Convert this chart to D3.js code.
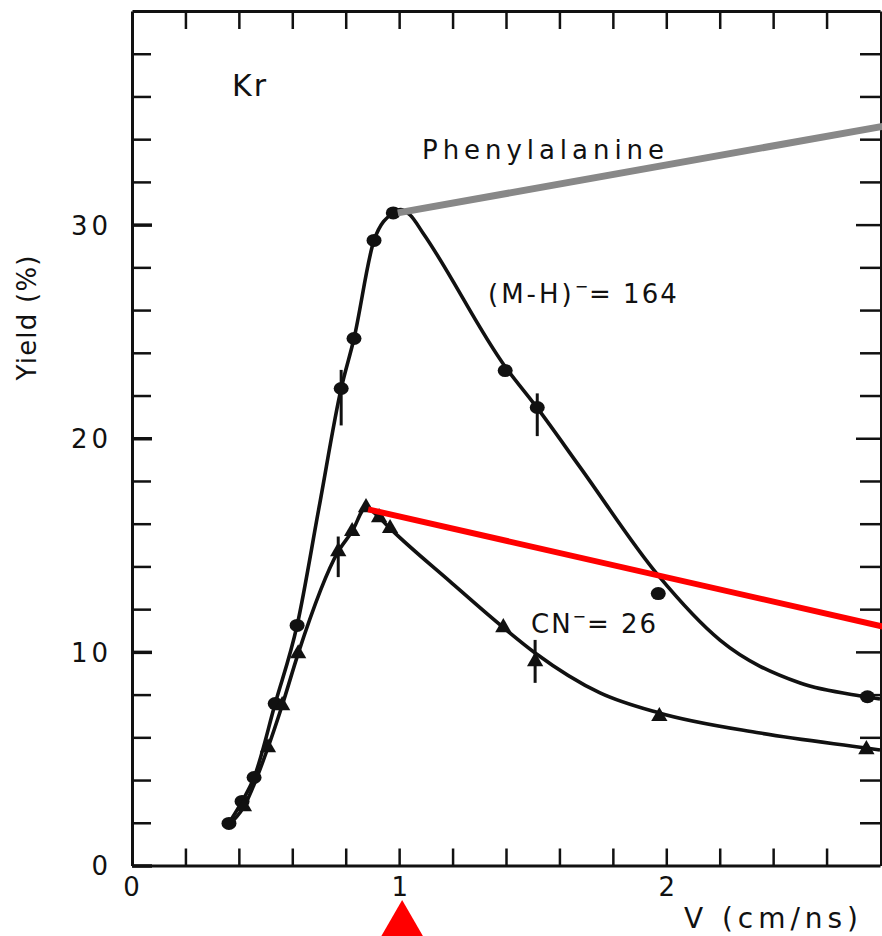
<!DOCTYPE html>
<html>
<meta charset="utf-8">
<head>
  <script src="https://d3js.org/d3.v7.min.js"></script>
  <style>
    body { margin: 0; background: #fff; }
    text { font-family: "DejaVu Sans", sans-serif; fill: #111; }
    .axis path, .axis line { stroke: #111; }
  </style>
</head>
<body>
<div id="chart"></div>
<script>

  // measured points, (M-H)- = 164  (circles)
  var mhX = [0.363, 0.412, 0.457, 0.536, 0.618, 0.783, 0.831, 0.906, 0.978, 1.397, 1.517, 1.970, 2.753];
  var mhY = [1.97, 3.00, 4.12, 7.58, 11.24, 22.33, 24.67, 29.26, 30.55, 23.17, 21.44, 12.73, 7.90];

  // measured points, CN- = 26  (triangles)
  var cnX = [0.419, 0.509, 0.562, 0.622, 0.772, 0.824, 0.876, 0.925, 0.966, 1.390, 1.509, 1.974, 2.749];
  var cnY = [2.76, 5.52, 7.49, 9.92, 14.70, 15.64, 16.76, 16.29, 15.78, 11.14, 9.55, 6.98, 5.43];

  // hand drawn curves through the points
  var mhCurveX = [0.352, 0.412, 0.457, 0.536, 0.618, 0.700, 0.783, 0.831, 0.906, 0.978, 1.005, 1.041, 1.089, 1.397, 1.517, 1.677, 1.969, 2.201, 2.501, 2.752, 2.800];
  var mhCurveY = [1.78, 3.00, 4.12, 7.58, 11.24, 16.75, 22.33, 24.67, 29.26, 30.55, 30.70, 30.45, 29.61, 23.35, 21.42, 18.65, 13.59, 10.55, 8.54, 7.89, 7.79];
  var cnCurveX = [0.352, 0.419, 0.509, 0.562, 0.622, 0.772, 0.824, 0.876, 0.925, 0.966, 1.190, 1.390, 1.509, 1.752, 1.973, 2.351, 2.748, 2.800];
  var cnCurveY = [1.78, 2.76, 5.52, 7.49, 9.92, 14.70, 15.64, 16.76, 16.29, 15.78, 13.3, 11.14, 9.95, 8.08, 7.14, 6.20, 5.50, 5.41];

  // error bars
  var mhErrX = [0.783, 1.517];
  var mhErrLo = [20.6, 20.1];
  var mhErrHi = [23.2, 22.1];
  var cnErrX = [0.772, 1.509];
  var cnErrLo = [13.5, 8.55];
  var cnErrHi = [15.4, 10.56];

  // added highlight lines
  var grayX = [0.995, 2.81];
  var grayY = [30.55, 34.6];
  var redX = [0.884, 2.81];
  var redY = [16.67, 11.19];
  var markerX = 1.0;

  var xTicks = d3.range(0, 28, 2).map(function(d) { return d / 10; });
  var yTicks = d3.range(0, 40, 2);
  var xLabels = [0, 1, 2];
  var yLabels = [0, 10, 20, 30];

  var W = 882, H = 936;
  var svg = d3.select("#chart").append("svg")
      .attr("width", W)
      .attr("height", H);

  var x = d3.scaleLinear().domain([0, 2.8]).range([132, 880]);
  var y = d3.scaleLinear().domain([0, 40]).range([865.5, 11]);

  function fmt(list) {
    return function(d) { return list.indexOf(Math.round(d * 10) / 10) >= 0 ? d3.format("d")(d) : ""; };
  }

  // bottom axis
  var gx = svg.append("g").attr("class", "axis")
      .attr("transform", "translate(0," + y(0) + ")")
      .call(d3.axisBottom(x).tickValues(xTicks).tickSize(-17).tickSizeOuter(0).tickPadding(12).tickFormat(fmt(xLabels)));
  // top axis
  var gt = svg.append("g").attr("class", "axis")
      .attr("transform", "translate(0," + y(40) + ")")
      .call(d3.axisTop(x).tickValues(xTicks.slice(1)).tickSize(-18).tickSizeOuter(0).tickFormat(""));
  // left axis
  var gy = svg.append("g").attr("class", "axis")
      .attr("transform", "translate(" + x(0) + ",0)")
      .call(d3.axisLeft(y).tickValues(yTicks).tickSize(-19).tickSizeOuter(0).tickPadding(20).tickFormat(fmt(yLabels)));
  // right axis
  var gr = svg.append("g").attr("class", "axis")
      .attr("transform", "translate(" + (x(2.8) + 1) + ",0)")
      .call(d3.axisRight(y).tickValues(yTicks.slice(1)).tickSize(-21).tickSizeOuter(0).tickFormat(""));

  svg.selectAll(".axis path").attr("stroke-width", 3);
  svg.selectAll(".axis line").attr("stroke-width", 2.5);
  gy.selectAll(".tick line").filter(function(d) { return d % 10 == 0; }).attr("stroke-width", 3.5).attr("x2", 20);
  gr.selectAll(".tick line").filter(function(d) { return d % 10 == 0; }).attr("x2", -25);
  svg.selectAll(".axis text").style("font-size", "26px").style("font-family", "DejaVu Sans").attr("fill", "#111");
  gy.selectAll("text").attr("dy", "0.36em").attr("letter-spacing", 4);
  gx.selectAll("text").attr("dy", "0.71em");
  gx.select(".tick text").attr("x", -1);

  // curves
  var line = d3.line()
      .x(function(d) { return x(d[0]); })
      .y(function(d) { return y(d[1]); })
      .curve(d3.curveMonotoneX);

  svg.append("path")
      .datum(d3.zip(mhCurveX, mhCurveY))
      .attr("d", line)
      .attr("fill", "none")
      .attr("stroke", "#111")
      .attr("stroke-width", 3.6);

  svg.append("path")
      .datum(d3.zip(cnCurveX, cnCurveY))
      .attr("d", line)
      .attr("fill", "none")
      .attr("stroke", "#111")
      .attr("stroke-width", 3.6);

  // error bars
  svg.append("g").selectAll("line")
      .data(d3.zip(mhErrX.concat(cnErrX), mhErrLo.concat(cnErrLo), mhErrHi.concat(cnErrHi)))
      .enter()
      .append("line")
      .attr("x1", function(d) { return x(d[0]); })
      .attr("x2", function(d) { return x(d[0]); })
      .attr("y1", function(d) { return y(d[1]); })
      .attr("y2", function(d) { return y(d[2]); })
      .attr("stroke", "#111")
      .attr("stroke-width", 3);

  // circles
  svg.append("g").selectAll("ellipse")
      .data(d3.zip(mhX, mhY))
      .enter()
      .append("ellipse")
      .attr("cx", function(d) { return x(d[0]); })
      .attr("cy", function(d) { return y(d[1]); })
      .attr("rx", 7.5)
      .attr("ry", 6.5)
      .attr("fill", "#111");

  // triangles
  var tri = d3.symbol().type(d3.symbolTriangle).size(115);
  svg.append("g").selectAll("path")
      .data(d3.zip(cnX, cnY))
      .enter()
      .append("path")
      .attr("d", tri)
      .attr("transform", function(d) { return "translate(" + x(d[0]) + "," + y(d[1]) + ")"; })
      .attr("fill", "#111");

  // gray + red overlay lines
  var straight = d3.line()
      .x(function(d) { return x(d[0]); })
      .y(function(d) { return y(d[1]); });

  svg.append("path")
      .datum(d3.zip(grayX, grayY))
      .attr("d", straight)
      .attr("stroke", "#888")
      .attr("stroke-width", 7);

  svg.append("path")
      .datum(d3.zip(redX, redY))
      .attr("d", straight)
      .attr("stroke", "#ff0000")
      .attr("stroke-width", 6);

  // red marker under the axis
  var mx = x(markerX) + 3;
  svg.append("path")
      .attr("d", "M" + mx + ",900 L" + (mx + 30) + ",952 L" + (mx - 30) + ",952 Z")
      .attr("fill", "#ff0000");

  // labels
  svg.append("text")
      .attr("x", 232).attr("y", 96)
      .attr("letter-spacing", 2)
      .style("font-size", "30px")
      .text("Kr");

  svg.append("text")
      .attr("x", 422).attr("y", 159)
      .attr("textLength", 242)
      .attr("lengthAdjust", "spacing")
      .style("font-size", "26px")
      .text("Phenylalanine");

  var mh = svg.append("text")
      .attr("x", 488).attr("y", 303)
      .style("font-size", "26px");
  mh.append("tspan").attr("letter-spacing", 3).text("(M-H)");
  mh.append("tspan").attr("dy", -11).style("font-size", "16px").text("−");
  mh.append("tspan").attr("dy", 11).attr("dx", 1).attr("letter-spacing", 2).text("= 164");

  var cn = svg.append("text")
      .attr("x", 531).attr("y", 633)
      .style("font-size", "26px");
  cn.append("tspan").attr("letter-spacing", 2).text("CN");
  cn.append("tspan").attr("dy", -11).style("font-size", "16px").text("−");
  cn.append("tspan").attr("dy", 11).attr("dx", 1).attr("letter-spacing", 2).text("= 26");

  svg.append("text")
      .attr("x", 684).attr("y", 928)
      .attr("textLength", 174)
      .attr("lengthAdjust", "spacing")
      .style("font-size", "28px")
      .text("V (cm/ns)");

  svg.append("text")
      .attr("transform", "translate(36,318) rotate(-90)")
      .attr("text-anchor", "middle")
      .attr("textLength", 125)
      .attr("lengthAdjust", "spacing")
      .style("font-size", "26px")
      .text("Yield (%)");

</script>
</body>
</html>
